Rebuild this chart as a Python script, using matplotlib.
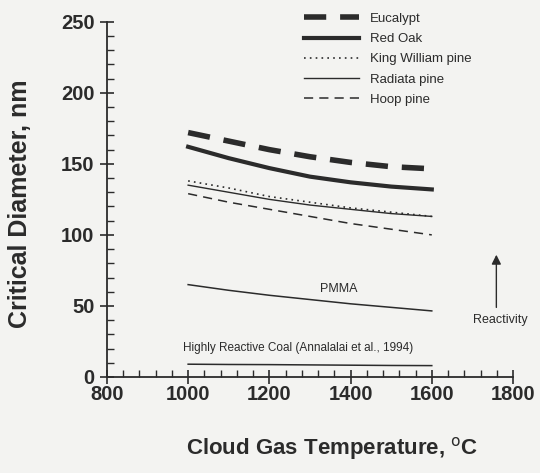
import matplotlib.pyplot as plt
from matplotlib.ticker import MultipleLocator

# data
temps = [1000, 1100, 1200, 1300, 1400, 1500, 1600]
eucalypt = [172, 166, 160, 155, 151, 148, 146.5]
red_oak = [162, 154, 147, 141, 137, 134, 132]
king_william = [138, 133, 127, 123, 119, 116, 113]
radiata = [135, 130, 125, 121, 118, 115, 113]
hoop = [129, 123, 118, 113, 108, 104, 100]
pmma = [65, 61, 57.5, 54.5, 51.5, 49, 46.5]
coal = [9, 8.8, 8.7, 8.5, 8.3, 8.1, 8]

ink = '#2b2b2b'
plt.rcParams['font.family'] = ['Liberation Sans', 'DejaVu Sans']

fig = plt.figure(figsize=(5.4, 4.73), dpi=100, facecolor='#f3f3f1')
ax = fig.add_axes([0.198, 0.203, 0.752, 0.751])
ax.set_facecolor('#f3f3f1')

ax.plot(temps, eucalypt, color=ink, lw=4, dashes=(4, 2.5), solid_capstyle='butt', label='Eucalypt')
ax.plot(temps, red_oak, color=ink, lw=3, label='Red Oak')
ax.plot(temps, king_william, color=ink, lw=1.2, dashes=(1, 2.5), label='King William pine')
ax.plot(temps, radiata, color=ink, lw=1.0, label='Radiata pine')
ax.plot(temps, hoop, color=ink, lw=1.1, dashes=(6, 4), label='Hoop pine')
ax.plot(temps, pmma, color=ink, lw=1.1)
ax.plot(temps, coal, color=ink, lw=1.1)

ax.text(1370, 62, 'PMMA', fontsize=9, color=ink, ha='center', va='center')
ax.text(987, 20.5, 'Highly Reactive Coal (Annalalai et al., 1994)', fontsize=8.5,
        color=ink, ha='left', va='center')
ax.annotate('', xy=(1759, 88), xytext=(1759, 47),
            arrowprops=dict(arrowstyle='-|>', color=ink, lw=1.0, mutation_scale=14))
ax.text(1768, 40, 'Reactivity', fontsize=9, color=ink, ha='center', va='center')

ax.set_xlim(800, 1800)
ax.set_ylim(0, 250)
ax.xaxis.set_major_locator(MultipleLocator(200))
ax.xaxis.set_minor_locator(MultipleLocator(40))
ax.yaxis.set_major_locator(MultipleLocator(50))
ax.yaxis.set_minor_locator(MultipleLocator(10))
ax.tick_params(which='major', direction='inout', length=10, width=1.2, color=ink,
               labelsize=14.5, labelcolor=ink)
ax.tick_params(axis='x', which='major', pad=0.5)
ax.tick_params(axis='y', which='major', pad=4)
ax.tick_params(which='minor', direction='in', length=5, width=1.0, color=ink)
for lbl in ax.get_xticklabels() + ax.get_yticklabels():
    lbl.set_fontweight('bold')

for s in ['top', 'right']:
    ax.spines[s].set_visible(False)
for s in ['left', 'bottom']:
    ax.spines[s].set_color(ink)
    ax.spines[s].set_linewidth(1.3)

ax.set_xlabel('Cloud Gas Temperature, $^{\\mathrm{o}}$C', fontsize=16, fontweight='bold',
              color=ink, va='center')
ax.xaxis.set_label_coords(0.554, -0.2)
ax.set_ylabel('Critical Diameter, nm', fontsize=18, fontweight='bold', color=ink, va='center')
ax.yaxis.set_label_coords(-0.215, 0.489)

leg = fig.legend(loc='upper left', bbox_to_anchor=(0.553, 0.984), frameon=False,
                 fontsize=9.5, handlelength=4.2, labelspacing=0.6, handletextpad=0.8,
                 borderaxespad=0)
for t in leg.get_texts():
    t.set_color(ink)

fig.savefig('out.png', dpi=100, facecolor=fig.get_facecolor())
